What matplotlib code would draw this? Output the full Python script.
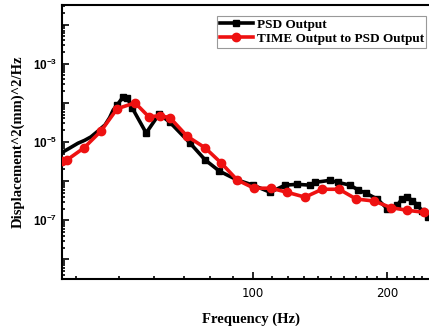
import matplotlib
matplotlib.use('Agg')
import matplotlib.pyplot as plt
import matplotlib.ticker as mticker
import numpy as np

# PSD Output (black, squares)
psd_freq = [37.2, 38.8, 40.4, 41.8, 43.2, 44.8, 46.5, 47.6, 48.5, 49.5, 51.0, 52.1,
            53.5, 57.5, 61.5, 65.0, 72.2, 78.0, 84.0, 92.1, 100.0, 109.2, 118.0,
            125.6, 134.3, 137.8, 148.9, 155.0, 165.2, 172.0, 179.4, 190.0, 200.0,
            210.7, 216.0, 221.9, 228.0, 233.7, 240.0, 247.4]
psd_val = [5.4e-6, 7.1e-6, 9.3e-6, 1.1e-5, 1.35e-5, 1.9e-5, 2.75e-5, 4.2e-5, 6.6e-5,
           8.9e-5, 1.4e-4, 1.35e-4, 7.4e-5, 1.7e-5, 5.2e-5, 3.2e-5, 9.3e-6, 3.5e-6,
           1.8e-6, 1.07e-6, 7.9e-7, 5.2e-7, 7.9e-7, 8.3e-7, 7.9e-7, 9.3e-7, 1.05e-6,
           9.3e-7, 7.9e-7, 6.0e-7, 4.9e-7, 3.5e-7, 2.0e-7, 2.4e-7, 3.5e-7, 3.9e-7,
           3.2e-7, 2.5e-7, 1.7e-7, 1.2e-7]
psd_marked = list(range(9, len(psd_freq)))

# TIME Output to PSD Output (red, circles)
time_freq = [37.2, 38.2, 41.7, 45.5, 49.5, 54.3, 58.3, 61.8, 65.0, 71.1, 78.0, 84.8,
             92.1, 100.5, 109.7, 119.2, 130.8, 142.9, 156.1, 170.4, 187.0, 204.3,
             221.9, 242.3]
time_val = [3.2e-6, 3.5e-6, 7.1e-6, 1.9e-5, 7.1e-5, 1.0e-4, 4.4e-5, 4.7e-5, 4.2e-5,
            1.4e-5, 7.1e-6, 2.9e-6, 1.07e-6, 6.6e-7, 6.6e-7, 5.2e-7, 3.9e-7, 6.2e-7,
            6.2e-7, 3.5e-7, 3.1e-7, 2.1e-7, 1.8e-7, 1.6e-7]

ytick_vals = [1e-8, 1e-7, 1e-6, 1e-5, 1e-4, 1e-3, 1e-2]
ytick_text = ['', r'$\mathbf{10^{-7}}$', '', r'$\mathbf{10^{-5}}$', '', r'$\mathbf{10^{-3}}$', '']

serif = ['Liberation Serif', 'DejaVu Serif']
plt.rcParams['mathtext.fontset'] = 'custom'
plt.rcParams['mathtext.bf'] = 'Liberation Sans:bold'
plt.rcParams['mathtext.rm'] = 'Liberation Sans'

W, H = 429, 326
fig = plt.figure(figsize=(W / 100, H / 100), dpi=100)
x0, x1, y0, y1 = 62, 440, 5, 279
ax = fig.add_axes([x0 / W, 1 - y1 / H, (x1 - x0) / W, (y1 - y0) / H])

ax.plot(psd_freq, psd_val, color='black', lw=2.6, marker='s', ms=5,
        markevery=psd_marked, label='PSD Output', zorder=3)
ax.plot(time_freq, time_val, color='#ee1111', lw=2.6, marker='o', ms=6,
        label='TIME Output to PSD Output', zorder=4)

ax.set_xscale('log')
ax.set_yscale('log')
ax.set_xlim(37.2, 263)
ax.set_ylim(10 ** -8.5, 10 ** -1.5)

ax.xaxis.set_major_locator(mticker.FixedLocator([100, 200]))
ax.xaxis.set_major_formatter(mticker.FixedFormatter(['100', '200']))
ax.xaxis.set_minor_locator(mticker.FixedLocator(
    [40, 50, 60, 70, 80, 90, 110, 120, 130, 140, 150, 160, 170, 180, 190, 210, 220, 230, 240, 250]))
ax.xaxis.set_minor_formatter(mticker.NullFormatter())
ax.yaxis.set_major_locator(mticker.FixedLocator(ytick_vals))
ax.yaxis.set_major_formatter(mticker.FixedFormatter(ytick_text))
ax.yaxis.set_minor_locator(mticker.LogLocator(base=10, subs=np.arange(2, 10), numticks=20))
ax.yaxis.set_minor_formatter(mticker.NullFormatter())

ax.tick_params(which='both', direction='in', top=False, right=False, width=1.2)
ax.tick_params(which='major', length=5, labelsize=8.5)
ax.tick_params(which='minor', length=2.5)
ax.tick_params(axis='x', pad=6)
for s in ax.spines.values():
    s.set_linewidth(1.5)

ax.set_xlabel('Frequency (Hz)', fontfamily=serif, fontweight='bold', fontsize=10.5, labelpad=9)
ax.set_ylabel('Displacement^2(mm)^2/Hz', fontfamily=serif, fontweight='bold', fontsize=10.5,
              labelpad=6)

leg = ax.legend(loc='upper left', bbox_to_anchor=((217 - x0) / (x1 - x0), 1 - (16 - y0) / (y1 - y0)),
                prop={'family': serif, 'weight': 'bold', 'size': 9.5}, fancybox=False,
                edgecolor='#999999', framealpha=1, borderpad=0.2, handlelength=2.5,
                handletextpad=0.3, labelspacing=0.15, borderaxespad=0)
leg.get_frame().set_linewidth(0.8)

fig.savefig('out.png', dpi=100)
